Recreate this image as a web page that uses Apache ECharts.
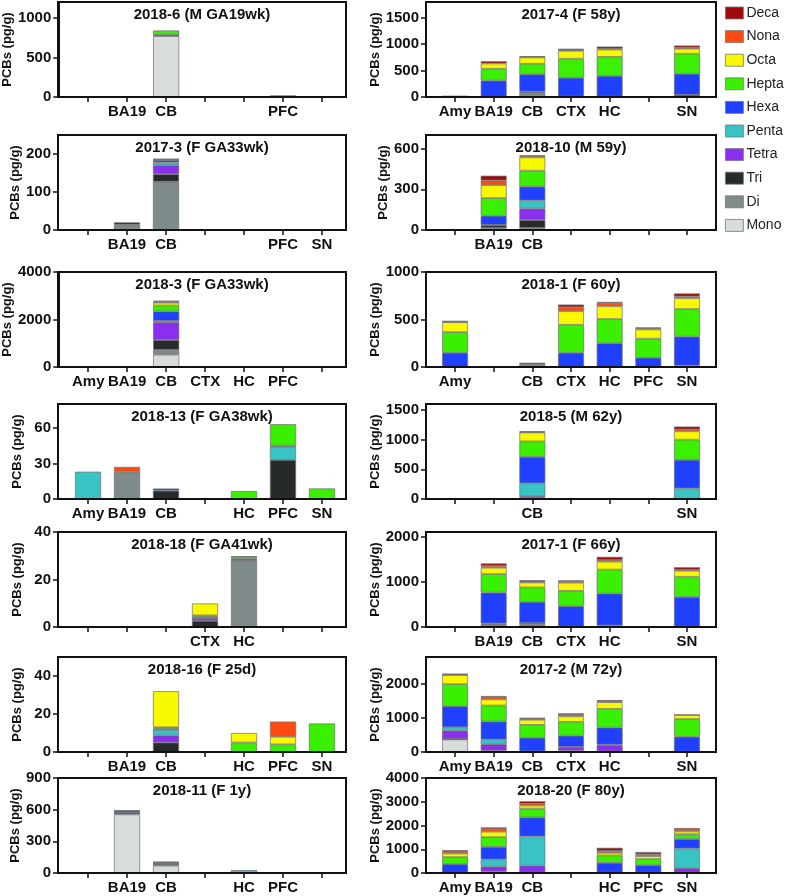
<!DOCTYPE html>
<html><head><meta charset="utf-8">
<script src="https://cdn.jsdelivr.net/npm/echarts@6/dist/echarts.min.js"></script>
<style>html,body{margin:0;padding:0;background:#fff}#c{width:789px;height:896px}</style>
</head><body><div id="c"></div>
<script>
// Regions (x categories) and homolog groups (stack order bottom->top)
const regions = ['Amy','BA19','CB','CTX','HC','PFC','SN'];
const homologs = ['Mono','Di','Tri','Tetra','Penta','Hexa','Hepta','Octa','Nona','Deca'];
const legendOrder = ['Deca','Nona','Octa','Hepta','Hexa','Penta','Tetra','Tri','Di','Mono'];
const colors = {Mono:'#d9dcdc',Di:'#7f8a8a',Tri:'#262a2a',Tetra:'#8a2ef0',Penta:'#38c4c4',Hexa:'#2040ff',Hepta:'#3af000',Octa:'#f8f800',Nona:'#ff4a12',Deca:'#a00a0a'};

// Each row = one region (Amy..SN); values: Mono,Di,Tri,Tetra,Penta,Hexa,Hepta,Octa,Nona,Deca (pg/g)
const d2018_6 = [
 [0,0,0,0,0,0,0,0,0,0],
 [0,5,2,0,0,0,0,0,0,0],
 [770,5,10,0,0,0,55,0,0,0],
 [0,0,0,0,0,0,0,0,0,0],
 [0,0,0,0,0,0,0,0,0,0],
 [0,0,6,0,0,0,14,0,0,0],
 [0,0,0,0,0,0,0,0,0,0]];
const d2017_4 = [
 [0,10,8,0,0,0,0,0,0,0],
 [0,0,5,0,0,305,225,100,0,42],
 [0,75,25,0,0,330,200,120,15,5],
 [0,0,10,0,0,355,360,150,15,25],
 [0,0,10,0,0,390,360,140,15,40],
 [0,0,0,0,0,0,0,0,0,0],
 [0,0,40,0,0,400,380,95,20,40]];
const d2017_3 = [
 [0,0,0,0,0,0,0,0,0,0],
 [0,14,6,0,0,0,0,0,0,0],
 [0,127,20,23,8,6,2,1,0,0],
 [0,0,0,0,0,0,0,0,0,0],
 [0,0,0,0,0,0,0,0,0,0],
 [0,0,0,0,0,0,0,0,0,0],
 [0,0,0,0,0,0,0,0,0,0]];
const d2018_10 = [
 [0,0,0,0,0,0,0,0,0,0],
 [0,15,20,3,0,67,130,95,35,35],
 [0,15,58,85,60,102,117,98,10,5],
 [0,0,0,0,0,0,0,0,0,0],
 [0,0,0,0,0,0,0,0,0,0],
 [0,0,0,0,0,0,0,0,0,0],
 [0,0,0,0,0,0,0,0,0,0]];
const d2018_3 = [
 [0,0,5,0,0,5,5,0,0,0],
 [0,0,5,0,0,5,5,0,0,0],
 [520,200,420,740,60,400,250,120,40,40],
 [0,0,5,0,0,5,5,0,0,0],
 [0,0,5,0,0,5,5,0,0,0],
 [0,0,5,0,0,5,5,0,0,0],
 [0,0,0,0,0,0,0,0,0,0]];
const d2018_1 = [
 [0,0,0,0,0,150,217,105,5,8],
 [0,0,0,0,0,0,0,0,0,0],
 [0,30,15,0,0,0,0,0,0,0],
 [0,0,0,0,0,150,294,143,42,28],
 [0,0,0,0,0,250,255,135,35,10],
 [0,0,0,0,0,98,200,97,14,6],
 [0,0,15,0,0,305,290,115,18,31]];
const d2018_13 = [
 [0,0,0,0,23,0,0,0,0,0],
 [0,23,0,0,0,0,0,0,4,0],
 [0,0,7,0,0,1.8,0,0,0,0],
 [0,0,0,0,0,0,0,0,0,0],
 [0,0,0,0,0,0,6.7,0,0,0],
 [0,0,33,0,11,1,18,0,0,0],
 [0,0,0,0,0,0,8.9,0,0,0]];
const d2018_5 = [
 [0,0,0,0,0,0,0,0,0,0],
 [0,0,0,0,0,0,0,0,0,0],
 [0,0,20,30,215,445,260,150,10,10],
 [0,0,0,0,0,0,0,0,0,0],
 [0,0,0,0,0,0,0,0,0,0],
 [0,0,0,0,0,0,0,0,0,0],
 [0,0,5,0,175,480,340,140,30,50]];
const d2018_18 = [
 [0,0,0,0,0,0,0,0,0,0],
 [0,0,0,0,0,0,0,0,0,0],
 [0,0,0,0,0,0,0,0,0,0],
 [0,0,2.6,1.2,0,0.5,0.6,5,0,0],
 [0,28,0.2,0,0,0.6,0.7,0.3,0,0],
 [0,0,0,0,0,0,0,0,0,0],
 [0,0,0,0,0,0,0,0,0,0]];
const d2017_1 = [
 [0,0,0,0,0,0,0,0,0,0],
 [0,50,30,0,0,680,410,140,40,55],
 [0,55,30,0,0,470,320,110,15,35],
 [0,0,10,0,0,450,340,180,35,10],
 [0,0,35,0,0,705,530,175,35,70],
 [0,0,0,0,0,0,0,0,0,0],
 [0,0,10,0,0,655,445,135,20,55]];
const d2018_16 = [
 [0,0,0,0,0,0,0,0,0,0],
 [0,0,0,0,0,0,0,0,0,0],
 [0,0,5,3.7,3,0.7,0.6,19,0,0],
 [0,0,0,0,0,0,0,0,0,0],
 [0,0,0,0,0,0,5,5,0,0],
 [0,0,0,0,0,0,4,4,8,0],
 [0,0,0,0,0,0,15,0,0,0]];
const d2017_2 = [
 [370,10,10,240,100,620,650,270,10,30],
 [0,0,40,190,140,530,470,180,70,30],
 [0,0,20,0,0,400,380,150,30,30],
 [0,0,40,110,0,330,410,160,50,40],
 [0,0,20,180,20,500,550,200,20,40],
 [0,0,0,0,0,0,0,0,0,0],
 [0,0,10,0,0,440,520,120,10,0]];
const d2018_11 = [
 [0,0,0,0,0,0,0,0,0,0],
 [555,0,15,0,0,20,3,0,0,0],
 [70,0,15,8,0,5,0,3,0,5],
 [0,0,0,0,0,0,0,0,0,0],
 [0,0,0,0,28,0,0,0,0,0],
 [0,0,0,0,0,0,0,0,0,0],
 [0,0,0,0,0,0,0,0,0,0]];
const d2018_20 = [
 [0,0,10,0,0,370,290,150,70,70],
 [0,0,60,210,300,530,410,230,110,70],
 [0,0,20,290,1230,800,370,130,80,100],
 [0,0,0,0,0,0,0,0,0,0],
 [0,0,20,0,0,410,310,110,80,130],
 [0,0,20,0,0,310,260,120,80,90],
 [0,0,20,180,830,400,200,120,70,70]];

// Shown x tick labels per panel
const lab2018_6  = ['','BA19','CB','','','PFC',''];
const lab2017_4  = ['Amy','BA19','CB','CTX','HC','','SN'];
const lab2017_3  = ['','BA19','CB','','','PFC','SN'];
const lab2018_10 = ['','BA19','CB','','','',''];
const lab2018_3  = ['Amy','BA19','CB','CTX','HC','PFC',''];
const lab2018_1  = ['Amy','','CB','CTX','HC','PFC','SN'];
const lab2018_13 = ['Amy','BA19','CB','','HC','PFC','SN'];
const lab2018_5  = ['','','CB','','','','SN'];
const lab2018_18 = ['','','','CTX','HC','',''];
const lab2017_1  = ['','BA19','CB','CTX','HC','','SN'];
const lab2018_16 = ['','BA19','CB','','HC','PFC','SN'];
const lab2017_2  = ['Amy','BA19','CB','CTX','HC','','SN'];
const lab2018_11 = ['','BA19','CB','','HC','PFC',''];
const lab2018_20 = ['Amy','BA19','CB','','HC','PFC','SN'];

// Y tick values per panel
const yt2018_6 = [0,500,1000],  yt2017_3 = [0,100,200], yt2018_3 = [0,2000,4000],
      yt2018_13 = [0,30,60], yt2018_18 = [0,20,40], yt2018_16 = [0,20,40], yt2018_11 = [0,300,600,900];
const yt2017_4 = [0,500,1000,1500], yt2018_10 = [0,300,600], yt2018_1 = [0,500,1000],
      yt2018_5 = [0,500,1000,1500], yt2017_1 = [0,1000,2000], yt2017_2 = [0,1000,2000], yt2018_20 = [0,1000,2000,3000,4000];

const panels = [
 {t:'2018-6 (M GA19wk)', d:d2018_6, l:lab2018_6, yt:yt2018_6, max:1200, col:0, row:0},
 {t:'2017-3 (F GA33wk)', d:d2017_3, l:lab2017_3, yt:yt2017_3, max:250, col:0, row:1},
 {t:'2018-3 (F GA33wk)', d:d2018_3, l:lab2018_3, yt:yt2018_3, max:4000, col:0, row:2},
 {t:'2018-13 (F GA38wk)', d:d2018_13, l:lab2018_13, yt:yt2018_13, max:80, col:0, row:3},
 {t:'2018-18 (F GA41wk)', d:d2018_18, l:lab2018_18, yt:yt2018_18, max:40, col:0, row:4},
 {t:'2018-16 (F 25d)', d:d2018_16, l:lab2018_16, yt:yt2018_16, max:50, col:0, row:5},
 {t:'2018-11 (F 1y)', d:d2018_11, l:lab2018_11, yt:yt2018_11, max:900, col:0, row:6},
 {t:'2017-4 (F 58y)', d:d2017_4, l:lab2017_4, yt:yt2017_4, max:1800, col:1, row:0},
 {t:'2018-10 (M 59y)', d:d2018_10, l:lab2018_10, yt:yt2018_10, max:700, col:1, row:1},
 {t:'2018-1 (F 60y)', d:d2018_1, l:lab2018_1, yt:yt2018_1, max:1000, col:1, row:2},
 {t:'2018-5 (M 62y)', d:d2018_5, l:lab2018_5, yt:yt2018_5, max:1600, col:1, row:3},
 {t:'2017-1 (F 66y)', d:d2017_1, l:lab2017_1, yt:yt2017_1, max:2100, col:1, row:4},
 {t:'2017-2 (M 72y)', d:d2017_2, l:lab2017_2, yt:yt2017_2, max:2800, col:1, row:5},
 {t:'2018-20 (F 80y)', d:d2018_20, l:lab2018_20, yt:yt2018_20, max:4000, col:1, row:6}
];

const FONT = "'Liberation Sans',Arial,sans-serif";
const zeroY = [97, 230, 367, 499, 627, 752, 873];
const H = 95;
// frame (axis box) and inner category band per column
const frameL = [58, 426], frameW = [288, 290];
const bandL = [68.5, 435.7], bandW = [273, 270.6];

const grids = [], xAxes = [], yAxes = [], titles = [], series = [], frames = [];
panels.forEach((p, i) => {
  const top = zeroY[p.row] - H, c = p.col;
  grids.push({left:bandL[c], top:top, width:bandW[c], height:H, show:false, containLabel:false});
  frames.push({type:'rect', silent:true, z:100,
    shape:{x:frameL[c], y:top, width:frameW[c], height:H},
    style:{fill:null, stroke:'#111', lineWidth:2}});
  titles.push({text:p.t, left:frameL[c] + frameW[c]/2, top:top + 5, textAlign:'center', padding:0,
    textStyle:{fontFamily:FONT, fontSize:15, fontWeight:'bold', color:'#111'}});
  xAxes.push({type:'category', gridIndex:i, data:regions,
    axisLine:{show:false},
    axisTick:{show:true, alignWithLabel:true, length:5, lineStyle:{color:'#111', width:1.5}},
    axisLabel:{formatter:(v, idx) => p.l[idx], interval:0, margin:7, color:'#111',
      fontFamily:FONT, fontSize:15, fontWeight:'bold'},
    splitLine:{show:false}});
  yAxes.push({type:'value', gridIndex:i, min:0, max:p.max, offset:bandL[c] - frameL[c],
    name:'PCBs (pg/g)', nameLocation:'middle', nameGap:34,
    nameTextStyle:{fontFamily:FONT, fontSize:13, fontWeight:'bold', color:'#111'},
    axisLine:{show:true, lineStyle:{color:'#111', width:2}},
    axisTick:{show:true, length:5, customValues:p.yt, lineStyle:{color:'#111', width:1.5}},
    axisLabel:{customValues:p.yt, formatter:v => String(v), margin:7, color:'#111', fontFamily:FONT, fontSize:15, fontWeight:'bold'},
    splitLine:{show:false}});
  homologs.forEach((h, k) => {
    series.push({type:'bar', name:h, xAxisIndex:i, yAxisIndex:i, stack:'s'+i,
      barWidth:'67%',
      itemStyle:{color:colors[h], borderColor:'#6e6e6e', borderWidth:0.7},
      emphasis:{disabled:true},
      data:p.d.map(r => r[k] === 0 ? '-' : r[k])});
  });
});

const chart = echarts.init(document.getElementById('c'), null, {renderer:'canvas'});
chart.setOption({
  animation:false,
  title:titles,
  graphic:frames,
  legend:{data:legendOrder, orient:'vertical', left:725, top:6, padding:0, itemWidth:18, itemHeight:12, itemGap:9.6,
    icon:'rect', selectedMode:false,
    itemStyle:{borderColor:'#777', borderWidth:0.8},
    textStyle:{fontFamily:FONT, fontSize:14, color:'#222', padding:[0,0,0,-2], lineHeight:14}},
  grid:grids, xAxis:xAxes, yAxis:yAxes, series:series
});
</script></body></html>
